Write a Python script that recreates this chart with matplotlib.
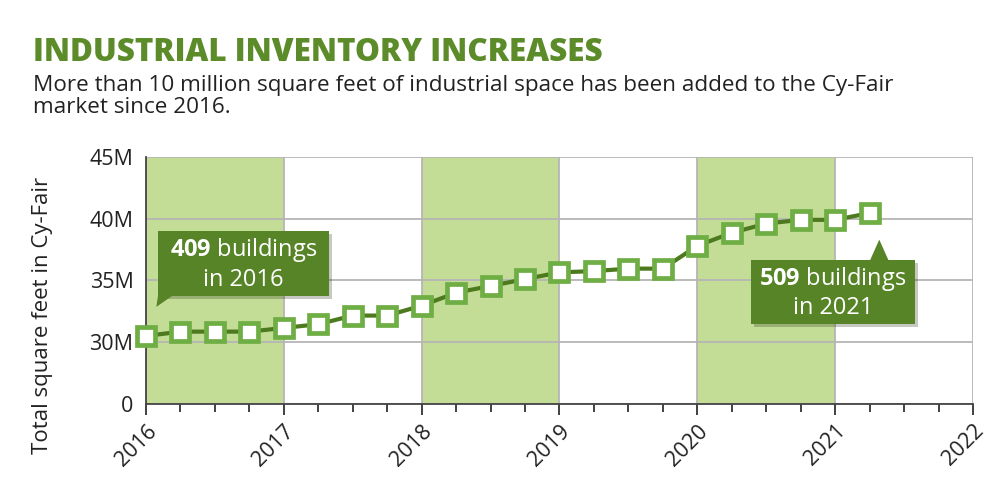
import matplotlib
matplotlib.use("Agg")
import matplotlib.pyplot as plt
import matplotlib.patheffects as pe
from matplotlib.patches import Rectangle, Polygon
import numpy as np

# Data: quarterly industrial inventory, million sq ft
quarters = np.arange(2016, 2021.5, 0.25)
sq_feet = [30.5, 30.85, 30.85, 30.85, 31.15, 31.45, 32.15, 32.15,
           32.95, 34.0, 34.55, 35.1, 35.65, 35.75, 35.95, 35.95,
           37.8, 38.85, 39.6, 39.9, 39.9, 40.45]
years = [2016, 2017, 2018, 2019, 2020, 2021, 2022]
shaded_years = [2016, 2018, 2020]
ytick_vals = [25, 30, 35, 40, 45]
ytick_labels = ['0', '30M', '35M', '40M', '45M']

title_green = '#5b8c29'
box_green = '#578426'
line_green = '#4d7a1e'
marker_green = '#6fae44'
band_green = '#c4dd96'

plt.rcParams['font.family'] = ['Open Sans', 'DejaVu Sans']
plt.rcParams['mathtext.fontset'] = 'custom'
plt.rcParams['mathtext.rm'] = 'Open Sans'
plt.rcParams['mathtext.bf'] = 'Open Sans:bold'

fig = plt.figure(figsize=(10, 4.98), dpi=100)
ax = fig.add_axes([0.146, 0.189, 0.827, 0.496])

# shaded year bands
for y0 in shaded_years:
    ax.axvspan(y0, y0 + 1, color=band_green, zorder=0, lw=0)

ax.plot(quarters, sq_feet, color=line_green, lw=3, marker='s', markersize=12.5,
        markerfacecolor='white', markeredgecolor=marker_green, markeredgewidth=3.4,
        zorder=3, clip_on=False)

ax.set_xlim(2016, 2022)
ax.set_ylim(25, 45)
ax.set_xticks(years)
ax.set_xticklabels([str(y) for y in years], rotation=45, ha='right',
                   rotation_mode='anchor', fontsize=15.5, color='#222222')
ax.set_xticks(np.arange(2016, 2022.01, 0.25), minor=True)
ax.set_yticks(ytick_vals)
ax.set_yticklabels(ytick_labels, fontsize=15.5, color='#222222')
ax.tick_params(axis='x', which='major', length=8, width=1.3, color='#333333', pad=4)
ax.tick_params(axis='x', which='minor', length=6, width=1.3, color='#333333')
ax.tick_params(axis='y', length=0, pad=9)

ax.grid(True, which='major', color='#b5b5b5', lw=1.3, zorder=1)
ax.set_axisbelow(True)
for s in ['top', 'right']:
    ax.spines[s].set_visible(False)
for s in ['left', 'bottom']:
    ax.spines[s].set_color('#444444')
    ax.spines[s].set_linewidth(1.3)

ax.set_ylabel('Total square feet in Cy-Fair', fontsize=16, color='#222222')
ax.yaxis.set_label_coords(-0.113, 0.36)

shadow = [pe.SimplePatchShadow(offset=(2, -2), alpha=0.25), pe.Normal()]

# callout boxes with pointers (x0, x1, y0, y1 in data units; pointer base and tip)
def callout(text, box, base, tip):
    x0, x1, y0, y1 = box
    rect = Rectangle((x0, y0), x1 - x0, y1 - y0, fc=box_green, ec='none',
                     zorder=5, clip_on=False)
    rect.set_path_effects(shadow)
    ax.add_patch(rect)
    tri = Polygon([base[0], base[1], tip], closed=True, fc=box_green, ec='none',
                  zorder=5, clip_on=False)
    ax.add_patch(tri)
    ax.text((x0 + x1) / 2, (y0 + y1) / 2, text, ha='center', va='center',
            color='white', fontsize=17, linespacing=1.2, zorder=6)

callout(r'$\bf{409}$ buildings' + '\nin 2016',
        (2016.087, 2017.326, 33.70, 38.97),
        [(2016.087, 33.75), (2016.19, 33.75)], (2016.075, 32.85))
callout(r'$\bf{509}$ buildings' + '\nin 2021',
        (2020.39, 2021.58, 31.43, 36.62),
        [(2021.25, 36.55), (2021.39, 36.55)], (2021.32, 38.3))

fig.text(0.033, 0.877, 'INDUSTRIAL INVENTORY INCREASES', fontsize=22.7,
         fontweight='heavy', color=title_green, va='baseline')
fig.text(0.033, 0.818, 'More than 10 million square feet of industrial space has been added to the Cy-Fair',
         fontsize=16.2, color='#222222', va='baseline')
fig.text(0.033, 0.773, 'market since 2016.', fontsize=16.2, color='#222222', va='baseline')

fig.savefig('out.png', dpi=100)
